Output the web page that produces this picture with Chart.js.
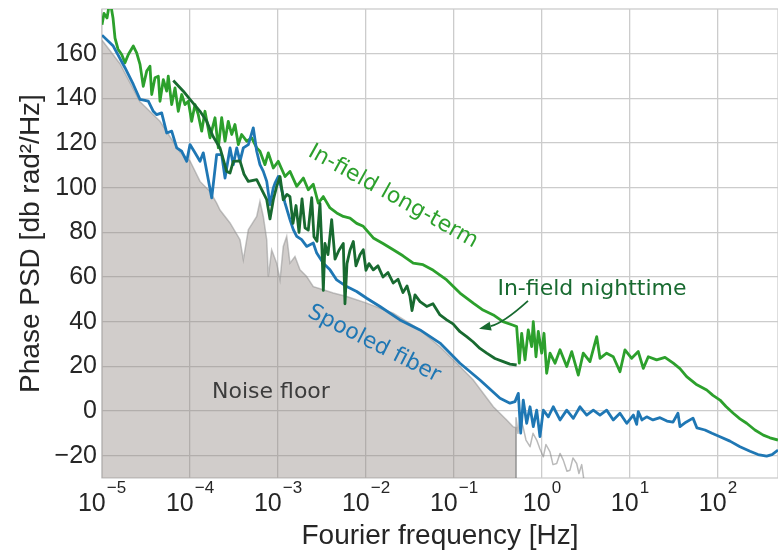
<!DOCTYPE html>
<html>
<head>
<meta charset="utf-8">
<script src="https://cdn.jsdelivr.net/npm/chart.js@4.4.1/dist/chart.umd.min.js"></script>
<style>
  html, body { margin: 0; background: #fff; }
  #wrap { width: 778px; height: 553px; }
</style>
</head>
<body>
<div id="wrap"><canvas id="psd" width="778" height="553"></canvas></div>
<script>
'use strict';

// ── Data (frequencies stored as log10(Hz), values in dB rad²/Hz) ─────────────
const xTickExp = [-5, -4, -3, -2, -1, 0, 1, 2];
const yTicks   = [-20, 0, 20, 40, 60, 80, 100, 120, 140, 160];

const fiberLogF = [-5.0,-4.872,-4.739,-4.644,-4.568,-4.474,-4.417,-4.378,-4.322,-4.265,-4.208,-4.151,-4.094,-4.037,-4.0,
  -3.943,-3.886,-3.849,-3.81,-3.753,-3.697,-3.64,-3.602,-3.545,-3.508,-3.469,-3.432,-3.394,-3.337,-3.281,-3.242,-3.205,
  -3.167,-3.128,-3.091,-3.053,-3.034,-2.997,-2.958,-2.92,-2.864,-2.826,-2.787,-2.731,-2.674,-2.599,-2.56,-2.485,-2.409,
  -2.333,-2.219,-2.106,-1.992,-1.841,-1.614,-1.386,-1.159,-0.932,-0.705,-0.477,-0.364,-0.307,
  -0.269,-0.242,-0.213,-0.174,-0.136,-0.099,-0.06,-0.023,0.015,0.072,0.128,0.205,0.281,0.356,0.432,0.508,0.583,0.659,
  0.735,0.81,0.886,0.963,1.038,1.076,1.094,1.136,1.19,1.261,1.341,1.42,1.489,1.545,1.568,1.636,1.716,1.761,1.852,1.932,
  2.023,2.136,2.25,2.364,2.455,2.553,2.614,2.682];
const fiberDb = [168.3,163.4,153.7,146.2,139.5,138.7,134.2,132.7,133.5,124.5,125.3,117.8,116.3,111.8,119.3,
  115.6,111.8,115.6,107.3,95.4,114.8,114.8,104.3,117.8,110.3,117.8,111.8,117.8,119.3,126.8,116.3,110.3,
  107.3,102.8,92.4,99.9,102,105,99.1,93.1,85.7,81.2,78.2,76.7,73.7,75.2,70.7,66.2,63.2,
  58.7,55.7,53.5,50.5,46.8,40.8,36.3,30.4,21.4,13.9,5.7,3.5,4.2,
  7.9,-9.9,4.9,-5.5,1.9,-7,0.4,-11.5,0.4,-2.6,1.9,-4,0.4,-3.3,1.9,-1.8,0.4,-1.8,
  0.4,-4,-1,-5.5,-1.8,-6,-0.3,-4,-2.6,-4,-3,-4.5,-5,-1,-7,-5,-3.2,-7.6,-8.5,-10,
  -11.5,-13.5,-16,-18,-19.5,-20.2,-19.5,-17.5];

const longLogF = [-5.0,-4.977,-4.943,-4.909,-4.875,-4.852,-4.818,-4.776,-4.739,-4.701,-4.644,-4.606,-4.568,-4.531,-4.492,
  -4.455,-4.435,-4.398,-4.36,-4.341,-4.303,-4.265,-4.247,-4.208,-4.17,-4.133,-4.094,-4.057,-4.019,-3.981,-3.943,-3.906,
  -3.867,-3.83,-3.773,-3.716,-3.678,-3.64,-3.602,-3.565,-3.526,-3.489,-3.451,-3.413,-3.356,-3.299,-3.242,-3.205,-3.148,
  -3.11,-3.053,-2.997,-2.92,-2.864,-2.787,-2.712,-2.656,-2.599,-2.542,-2.485,-2.409,-2.333,-2.258,-2.182,-2.106,-2.031,
  -1.917,-1.807,-1.69,-1.58,-1.463,-1.352,-1.235,-1.083,-0.932,-0.781,-0.67,-0.553,-0.443,-0.326,
  -0.288,-0.258,-0.231,-0.193,-0.156,-0.117,-0.099,-0.068,-0.042,-0.003,0.023,0.053,0.091,0.148,0.205,0.281,0.338,
  0.413,0.469,0.545,0.622,0.659,0.735,0.81,0.886,0.943,1.019,1.094,1.151,1.208,1.303,1.398,1.492,1.568,1.644,1.75,
  1.872,1.943,2.023,2.091,2.174,2.25,2.326,2.42,2.515,2.591,2.682];
const longDb = [173,178,176,184,176,167,162,159.6,155.9,159.6,163.4,160.4,155.2,145.4,152.2,
  154.4,141.7,149.2,149.9,138.7,148.4,143.2,149.9,137.2,144.7,134.2,141.7,137.2,138.7,129.7,137.2,132.7,
  125.3,134.2,122.3,131.3,117.8,131.3,120.8,129.7,123.8,128.3,119.3,123.8,120.8,122.3,117.8,116.3,110.3,
  115.6,108.8,111.8,105,107.3,100.6,104.3,99.1,101.5,93.1,96,90.9,88.7,87.1,86.4,84,82.7,
  77.5,75,72.2,69.5,66.2,65.5,63,58.7,52.8,48.3,45.2,43,40,38.4,
  37.8,21.4,34.8,22.9,36.3,28.8,40,24.3,35.6,25.9,34.8,16.9,25.9,21.4,27.4,19.9,26.6,
  16.1,25.9,22.1,33.3,23.6,25.9,24.3,17.6,27.4,23.6,26.6,19.1,24.3,22.9,24,21.4,19,15.4,12,
  9.4,7,4.9,2,-1,-3.5,-5.5,-8.5,-10.8,-12,-13];

const nightLogF = [-4.19,-4.076,-4.0,-3.886,-3.81,-3.739,-3.659,-3.583,-3.545,-3.508,-3.432,-3.386,-3.337,-3.242,-3.185,
  -3.128,-3.091,-3.053,-3.015,-2.977,-2.94,-2.898,-2.864,-2.83,-2.795,-2.761,-2.727,-2.693,-2.656,-2.617,-2.591,-2.557,
  -2.523,-2.5,-2.485,-2.466,-2.432,-2.39,-2.352,-2.307,-2.258,-2.239,-2.216,-2.182,-2.144,-2.114,-2.068,-2.031,-2.0,
  -1.966,-1.917,-1.864,-1.807,-1.75,-1.69,-1.636,-1.58,-1.534,-1.5,-1.477,-1.443,-1.386,-1.31,-1.239,-1.159,-1.083,
  -1.011,-0.932,-0.856,-0.784,-0.705,-0.628,-0.534,-0.44,-0.364,-0.288];
const nightDb = [148,143.2,139.5,134.2,129.7,123,117.8,107.3,106.6,111.8,112,106,102.8,103.6,99.1,
  94.6,86,94.6,100.6,105,94.6,97,96,84,92,80,95,82,81,95.5,78,76,
  93,72,54,75,70,85.7,68,72,75,48,66,72,75.9,65,70,72.2,63,
  66,63.2,65,60,62,57.3,59,53,56,51.3,45,52,49,46.8,48,43,40.8,
  39,35.5,33.3,31,28,25.9,23.5,22.1,21,20.6];

// noise floor, filled part (ends at 0.5 Hz)
const floorLogF = [-5.0,-4.795,-4.568,-4.341,-4.114,-4.0,-3.886,-3.773,-3.697,-3.659,-3.545,-3.432,-3.394,-3.337,-3.242,
  -3.205,-3.167,-3.128,-3.11,-3.072,-3.015,-2.977,-2.94,-2.901,-2.864,-2.807,-2.75,-2.674,-2.599,-2.485,-2.372,-2.219,
  -1.992,-1.69,-1.386,-1.159,-0.969,-0.781,-0.553,-0.401,-0.33,-0.295,-0.295];
const floorDb = [166,155.5,138.5,129.7,116,112,102.8,98.3,93.1,90,84.2,76.7,67.7,81.2,87.1,
  93.9,87.1,76.7,60.2,72.2,66.2,58.7,73.7,78.2,66.2,69.2,63.2,60.2,55.7,54.3,52.8,51.3,
  48.3,43.8,36.3,28.8,21.4,13.9,1.9,-4,-7,-7.5,-30];

// noise floor above 0.5 Hz (line only)
const floorHiLogF = [-0.295,-0.295,-0.273,-0.25,-0.216,-0.182,-0.136,-0.102,-0.06,-0.023,0.015,0.045,0.091,0.125,
  0.167,0.205,0.242,0.284,0.318,0.352,0.394,0.42,0.451,0.477];
const floorHiDb = [-30,-3,-10,-2.7,-7,-13,-16,-10,-13,-17,-20.5,-15,-18.3,-24,
  -23.5,-19,-22,-27,-26.5,-21,-23.5,-28,-24,-31];

// ── Styling ─────────────────────────────────────────────────────────────────
const BLUE  = '#1f77b4';
const GREEN = '#2ca02c';
const DARK  = '#186a30';
const AXIS_FONT = 'Liberation Sans';
const NOTE_FONT = 'DejaVu Sans';
const INK   = '#262626';
const GRID  = '#cccccc';

function series(logF, db) {
  if (logF.length !== db.length) throw new Error('length mismatch ' + logF.length + ' vs ' + db.length);
  return logF.map((e, i) => ({ x: Math.pow(10, e), y: db[i] }));
}

const notes = [
  { text: 'In-field long-term', lf: -1.693, db: 96,   angle: 29, color: GREEN },
  { text: 'Spooled fiber',      lf: -1.909, db: 30,   angle: 27, color: BLUE },
  { text: 'In-field nighttime', lf: 0.568,  db: 54.7, angle: 0,  color: DARK },
  { text: 'Noise floor',        lf: -3.08,  db: 8.5,  angle: 0,  color: '#3c3c3c' },
];
const arrow = { from: [-0.159, 49.3], ctrl: [-0.44, 39.3], to: [-0.716, 36.8] };

// frame (spines) round the plot area
const framePlugin = {
  id: 'frame',
  beforeDatasetsDraw(chart) {
    const { ctx, chartArea: a } = chart;
    ctx.save();
    ctx.strokeStyle = GRID;
    ctx.lineWidth = 1.3;
    ctx.strokeRect(a.left, a.top, a.right - a.left, a.bottom - a.top);
    ctx.restore();
  },
};

// annotations: labels + curved arrow, placed in data coordinates
const notesPlugin = {
  id: 'notes',
  afterDatasetsDraw(chart) {
    const { ctx, scales: { x, y } } = chart;
    const px = (lf, db) => [x.getPixelForValue(Math.pow(10, lf)), y.getPixelForValue(db)];
    ctx.save();
    ctx.textAlign = 'center';
    ctx.textBaseline = 'middle';
    ctx.font = '22px "' + NOTE_FONT + '"';
    notes.forEach(n => {
      const [cx, cy] = px(n.lf, n.db);
      ctx.save();
      ctx.translate(cx, cy);
      ctx.rotate(n.angle * Math.PI / 180);
      ctx.fillStyle = n.color;
      ctx.fillText(n.text, 0, 0);
      ctx.restore();
    });

    const [x0, y0] = px(...arrow.from);
    const [xc, yc] = px(...arrow.ctrl);
    const [x1, y1] = px(...arrow.to);
    const ang = Math.atan2(y1 - yc, x1 - xc);
    const headLen = 12, headHalf = 4.5;
    const bx = x1 - headLen * Math.cos(ang), by = y1 - headLen * Math.sin(ang);
    ctx.strokeStyle = DARK;
    ctx.fillStyle = DARK;
    ctx.lineWidth = 1.8;
    ctx.beginPath();
    ctx.moveTo(x0, y0);
    ctx.quadraticCurveTo(xc, yc, bx, by);
    ctx.stroke();
    ctx.beginPath();
    ctx.moveTo(x1, y1);
    ctx.lineTo(bx + headHalf * Math.sin(ang), by - headHalf * Math.cos(ang));
    ctx.lineTo(bx - headHalf * Math.sin(ang), by + headHalf * Math.cos(ang));
    ctx.closePath();
    ctx.fill();
    ctx.restore();
  },
};

// x tick labels as 10 with a raised exponent
const xLabelPlugin = {
  id: 'xLabels',
  afterDraw(chart) {
    const { ctx, scales: { x }, chartArea } = chart;
    ctx.save();
    ctx.fillStyle = INK;
    ctx.textAlign = 'left';
    ctx.textBaseline = 'alphabetic';
    xTickExp.forEach(e => {
      const cx = x.getPixelForValue(Math.pow(10, e));
      const sup = e < 0 ? '\u2212' + (-e) : String(e);
      ctx.font = '25px "' + AXIS_FONT + '"';
      const wBase = ctx.measureText('10').width;
      ctx.font = '17px "' + AXIS_FONT + '"';
      const wSup = ctx.measureText(sup).width;
      const left = cx - (wBase + wSup + 1) / 2;
      ctx.font = '25px "' + AXIS_FONT + '"';
      ctx.fillText('10', left, chartArea.bottom + 33);
      ctx.font = '17px "' + AXIS_FONT + '"';
      ctx.fillText(sup, left + wBase + 1, chartArea.bottom + 15);
    });
    ctx.restore();
  },
};

const line = (label, data, color, width, order) => ({
  label, data, borderColor: color, borderWidth: width, order,
  pointRadius: 0, tension: 0, fill: false, borderJoinStyle: 'round',
});

new Chart(document.getElementById('psd'), {
  type: 'line',
  data: {
    datasets: [
      line('In-field nighttime', series(nightLogF, nightDb), DARK, 2.8, 1),
      line('Spooled fiber', series(fiberLogF, fiberDb), BLUE, 2.8, 2),
      line('In-field long-term', series(longLogF, longDb), GREEN, 2.8, 3),
      line('Noise floor HF', series(floorHiLogF, floorHiDb), 'rgba(130,130,130,0.55)', 1.5, 4),
      {
        label: 'Noise floor', data: series(floorLogF, floorDb), order: 5,
        borderColor: 'rgba(140,140,140,0.5)', borderWidth: 1.5,
        backgroundColor: 'rgba(140,130,125,0.4)', fill: 'start',
        pointRadius: 0, tension: 0,
      },
    ],
  },
  options: {
    responsive: false,
    animation: false,
    events: [],
    layout: { padding: { top: 9, right: 0, bottom: 0, left: 0 } },
    plugins: { legend: { display: false }, tooltip: { enabled: false } },
    scales: {
      x: {
        type: 'logarithmic',
        min: 1e-5,
        max: Math.pow(10, 2.682),
        afterBuildTicks: s => { s.ticks = xTickExp.map(e => ({ value: Math.pow(10, e) })); },
        afterFit: s => { s.height = 75; s.paddingLeft = 0; s.paddingRight = 0; },
        ticks: { display: false },
        grid: { color: GRID, lineWidth: 1.3, drawTicks: false },
        border: { display: false },
        title: {
          display: true, text: 'Fourier frequency [Hz]', color: INK,
          font: { family: AXIS_FONT, size: 28 }, padding: 0,
        },
      },
      y: {
        type: 'linear',
        min: -30,
        max: 180,
        afterBuildTicks: s => { s.ticks = yTicks.map(v => ({ value: v })); },
        afterFit: s => { s.width = 102; s.paddingTop = 0; s.paddingBottom = 0; },
        ticks: {
          color: INK, padding: 5,
          font: { family: AXIS_FONT, size: 25 },
          callback: v => (v < 0 ? '\u2212' + Math.abs(v) : String(v)),
        },
        grid: { color: GRID, lineWidth: 1.3, drawTicks: false },
        border: { display: false },
        title: {
          display: true, text: 'Phase PSD [db rad\u00b2/Hz]', color: INK,
          font: { family: AXIS_FONT, size: 28 }, padding: { top: 14, bottom: 0 },
        },
      },
    },
  },
  plugins: [framePlugin, notesPlugin, xLabelPlugin],
});
</script>
</body>
</html>
